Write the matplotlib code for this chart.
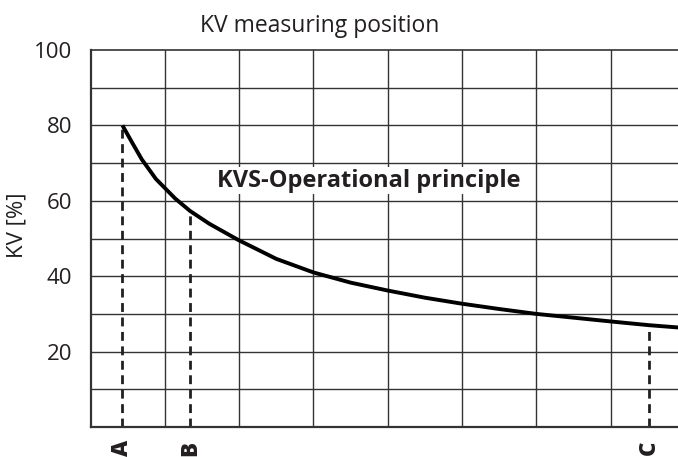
import matplotlib
matplotlib.use("Agg")
import matplotlib.pyplot as plt
import numpy as np

plt.rcParams['font.family'] = ['Open Sans', 'DejaVu Sans']

# curve
curve_x = [0.43, 0.55, 0.69, 0.88, 1.14, 1.34, 1.6, 1.99, 2.5, 3.0, 3.5, 4.0, 4.5, 5.0, 5.5, 6.0, 6.5, 7.0, 7.52, 7.91]
curve_y = [80.0, 75.8, 71.0, 65.8, 60.6, 57.3, 53.9, 49.6, 44.6, 41.0, 38.3, 36.2, 34.3, 32.7, 31.3, 30.0, 29.0, 28.0, 27.0, 26.4]

# measuring positions
pos_names = ['A', 'B', 'C']
pos_x = [0.43, 1.34, 7.52]
pos_y = [80.0, 57.3, 27.0]

y_ticks = [20, 40, 60, 80, 100]
ink = '#231f20'

fig = plt.figure(figsize=(6.78, 4.57), dpi=100)
ax = fig.add_axes([90.5 / 678, 30 / 457, 1 - 90.5 / 678, 377 / 457])
ax.set_xlim(0, 7.907)
ax.set_ylim(0, 100)

# grid
for gx in range(1, 8):
    ax.axvline(gx, color='#333333', lw=1.0, zorder=1)
for gy in range(10, 100, 10):
    ax.axhline(gy, color='#333333', lw=1.0, zorder=1)

ax.spines['right'].set_visible(False)
for s in ['left', 'bottom', 'top']:
    ax.spines[s].set_color('#333333')
ax.spines['left'].set_linewidth(1.6)
ax.spines['bottom'].set_linewidth(1.6)
ax.spines['top'].set_linewidth(1.2)

ax.set_xticks([])
ax.set_yticks(y_ticks)
ax.tick_params(axis='y', length=0, pad=13, labelsize=16, labelcolor=ink)

ax.plot(curve_x, curve_y, color='black', lw=2.8, zorder=3,
        solid_capstyle='butt', solid_joinstyle='round')

for name, px, py in zip(pos_names, pos_x, pos_y):
    ax.plot([px, px], [0, py], color=ink, lw=2.0, ls=(0, (3.2, 2.0)), zorder=2)
    ax.text(px, -5.6, name, rotation=90, ha='center', va='center', fontsize=16,
            fontweight='heavy', color=ink, clip_on=False)

ax.text(3.75, 65.3, 'KVS-Operational principle', ha='center', va='center',
        fontsize=17, fontweight='bold', color=ink, zorder=4,
        bbox=dict(facecolor='white', edgecolor='none', pad=1))

fig.text(17 / 678, 1 - 225 / 457, 'KV [%]', rotation=90, ha='center', va='center',
         fontsize=16, color=ink)
fig.text(320 / 678, 1 - 32 / 457, 'KV measuring position', ha='center', va='baseline',
         fontsize=16.5, color=ink)

fig.savefig('out.png', dpi=100)
